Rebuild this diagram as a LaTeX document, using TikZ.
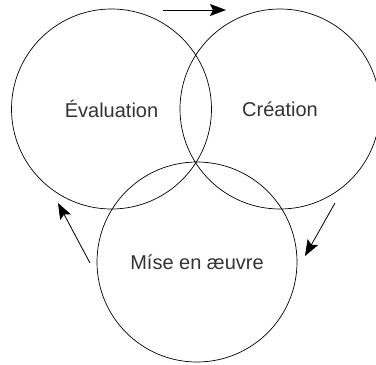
\documentclass[tikz,border=0pt]{standalone}
\usepackage{fontspec}
\setmainfont{Liberation Sans}
\usepackage{tikz}
\usetikzlibrary{arrows.meta}

\begin{document}
\begin{tikzpicture}[x=1pt, y=-1pt,
    every node/.style={font=\fontsize{20}{22}\selectfont, text=black!80},
    ring/.style={draw, circle, line width=0.7pt, minimum size=200pt, inner sep=0pt},
    cycle/.style={-{Stealth[length=16pt,width=12pt,inset=3pt]}, line width=0.8pt}]
    \useasboundingbox (0,0) rectangle (376,365);
    \begin{scope}
    \clip (0,0) rectangle (376,365);
    \node[ring] (eval) at (111.5,109) {Évaluation};
    \node[ring] (crea) at (280,109) {Création};
    \node[ring] (mise) at (197,262) {Míse en æuvre};
    \end{scope}
    % ends of the three arrows
    \coordinate (e1) at (163,10);
    \coordinate (c1) at (226,10);
    \coordinate (e2) at (335,203);
    \coordinate (c2) at (305,256);
    \coordinate (e3) at (90,263);
    \coordinate (c3) at (58,203);
    \draw[cycle] (e1) -- (c1);
    \draw[cycle] (e2) -- (c2);
    \draw[cycle] (e3) -- (c3);
  \end{tikzpicture}
\end{document}
